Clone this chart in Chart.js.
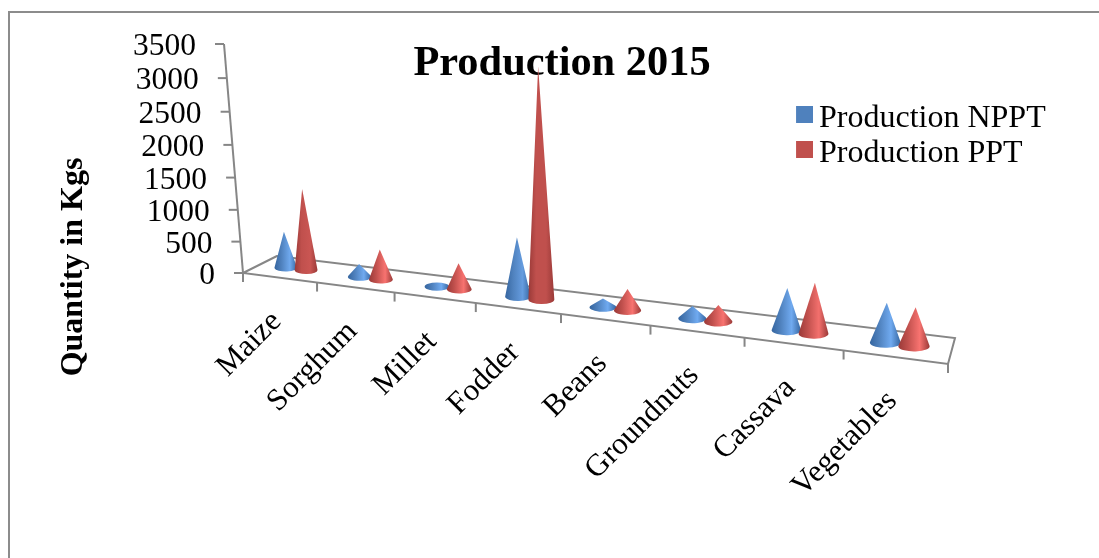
<!DOCTYPE html>
<html><head><meta charset="utf-8">
<style>html,body{margin:0;padding:0;background:#fff;overflow:hidden}canvas{display:block}</style>
<script src="https://cdn.jsdelivr.net/npm/chart.js@4"></script></head>
<body><canvas id="c" width="1099" height="558"></canvas>
<script>
const categories = ["Maize","Sorghum","Millet","Fodder","Beans","Groundnuts","Cassava","Vegetables"];
const productionNPPT = [500,180,20,830,125,175,590,555];
const productionPPT = [1130,420,365,3250,300,235,710,545];
const seriesNames = ["Production NPPT","Production PPT"];

const FONT = '"Liberation Serif","Times New Roman",serif';
const AXIS = '#868686';
const palette = [
  {base:'#4F81BD', dark:'#35659f', light:'#70aaf0'},
  {base:'#C0504D', dark:'#9a3a38', light:'#f87370'}
];
// view projection of the 3-D floor
const B = 1.217, C = 1.05;
const persp = u => u/(u+B*(1-u));
const vPersp = v => v/(v+C*(1-v));
const cornerFL=[243,273], cornerFR=[948,364], cornerBL=[277,256], cornerBR=[955,338];
const midL=[260,264.5], midR=[951.5,351];
const HEIGHT_GAIN = 1.1, LEAN = 0.000149, LEAN_X0 = 634;
const lerp=(a,b,t)=>a+(b-a)*t;
const frontPt = u => {const p=persp(u);return [lerp(cornerFL[0],cornerFR[0],p),lerp(cornerFL[1],cornerFR[1],p)];};
const midPt = u => {const p=persp(u);return [lerp(midL[0],midR[0],p),lerp(midL[1],midR[1],p)];};
const axisTop=[224,44];

function line(ctx,x1,y1,x2,y2){ctx.beginPath();ctx.moveTo(x1,y1);ctx.lineTo(x2,y2);ctx.stroke();}

function swatch(color){
  const s=document.createElement('canvas');s.width=20;s.height=26;
  const c=s.getContext('2d');c.fillStyle=color;c.fillRect(3,0,17,17);return s;
}
const swatches=palette.map(p=>swatch(p.base));

function drawCone(ctx,bx,by,rx,ry,h,pal){
  const lean=h*(bx-LEAN_X0)*LEAN;
  const tx=bx+lean, ty=by-h;
  const nx=lean/rx, ny=-h/ry, d=Math.hypot(nx,ny);
  const g=ctx.createLinearGradient(bx-rx,0,bx+rx,0);
  const dull=Math.min(1,Math.max(0,(h/rx-3)/5));
  const mix=(a,b,t)=>{const pa=[1,3,5].map(i=>parseInt(a.substr(i,2),16)),pb=[1,3,5].map(i=>parseInt(b.substr(i,2),16));
    return 'rgb('+pa.map((v,i)=>Math.round(lerp(v,pb[i],t))).join(',')+')';};
  const hi=mix(pal.light,pal.base,dull);
  g.addColorStop(0,pal.dark);g.addColorStop(0.3,pal.base);g.addColorStop(0.68,hi);g.addColorStop(1,pal.dark);
  ctx.save();ctx.fillStyle=g;ctx.beginPath();
  if(d<=1){ctx.ellipse(bx,by,rx,ry,0,0,Math.PI*2);}
  else{
    const a=Math.atan2(ny,nx), da=Math.acos(1/d);
    ctx.moveTo(tx,ty);
    ctx.ellipse(bx,by,rx,ry,0,a+da,a-da+Math.PI*2,false);
    ctx.closePath();
  }
  ctx.fill();ctx.restore();
}

const cones3d = {
  id:'cones3d',
  beforeDatasetDraw(){return false;},
  beforeDraw(chart){
    const {ctx,chartArea:a,scales:{x,y}}=chart;
    // frame
    ctx.save();ctx.strokeStyle='#8c8c8c';ctx.lineWidth=2;
    ctx.beginPath();ctx.moveTo(9,560);ctx.lineTo(9,12);ctx.lineTo(1101,12);ctx.stroke();ctx.restore();
    // move y tick labels along the leaning wall, with perspective spacing
    const yItems=y.getLabelItems();
    y.ticks.forEach((t,i)=>{
      const v=t.value/y.max;const py=lerp(cornerFL[1],axisTop[1],vPersp(v));
      const px=lerp(cornerFL[0],axisTop[0],vPersp(v));
      yItems[i].options.translation=[px-28,py+3];
    });
    // move category labels along the sloping front edge
    const xItems=x.getLabelItems();
    x.ticks.forEach((t,i)=>{
      const u=(x.getPixelForTick(i)-a.left)/a.width;const f=frontPt(u);
      xItems[i].options.translation=[f[0]-16,f[1]+26];
    });
    if(!y._titlePatched){
      const orig=y.drawTitle.bind(y);
      y.drawTitle=function(){const t=this.top,b=this.bottom;this.top=157;this.bottom=377;orig();this.top=t;this.bottom=b;};
      y._titlePatched=true;
    }
  },
  afterLayout(chart){
    const l=chart.legend;
    l.left=800;l.right=1090;l.top=100;l.bottom=540;
    l.draw=function(){this._draw();};
    const t=chart.titleBlock;t.left+=88;t.right+=88;t.top+=2;t.bottom+=2;
  },
  afterDatasetsDraw(chart){
    const {ctx,chartArea:a,scales:{x,y}}=chart;
    ctx.save();ctx.strokeStyle=AXIS;ctx.lineWidth=2;ctx.lineJoin='miter';
    // wall axis and its ticks
    line(ctx,cornerFL[0],cornerFL[1],axisTop[0],axisTop[1]);
    y.ticks.forEach(t=>{
      const v=vPersp(t.value/y.max);
      const px=lerp(cornerFL[0],axisTop[0],v),py=lerp(cornerFL[1],axisTop[1],v);
      line(ctx,px-9,py,px,py);
    });
    // floor
    ctx.beginPath();ctx.moveTo(...cornerBL);ctx.lineTo(...cornerFL);ctx.lineTo(...cornerFR);ctx.lineTo(...cornerBR);ctx.closePath();ctx.stroke();
    for(let i=0;i<=categories.length;i++){
      const f=frontPt(i/categories.length);line(ctx,f[0],f[1],f[0],f[1]+9);
    }
    ctx.restore();
    // cones, in reading order
    for(let j=0;j<categories.length;j++){
      chart.data.datasets.forEach((ds,di)=>{
        const el=chart.getDatasetMeta(di).data[j];
        const u=(el.x-a.left)/a.width;
        const uL=(el.x-el.width/2-a.left)/a.width,uR=(el.x+el.width/2-a.left)/a.width;
        const m=midPt(u);
        const rx=(midPt(uR)[0]-midPt(uL)[0])/2+1.2;
        const h=(y.getPixelForValue(0)-el.y)*HEIGHT_GAIN;
        drawCone(ctx,m[0],m[1],rx,rx*0.33,h,palette[di]);
      });
    }
  }
};

new Chart(document.getElementById('c'),{
  type:'bar',
  data:{labels:categories,datasets:[
    {label:seriesNames[0],data:productionNPPT,backgroundColor:palette[0].base,borderWidth:0},
    {label:seriesNames[1],data:productionPPT,backgroundColor:palette[1].base,borderWidth:0}
  ]},
  plugins:[cones3d],
  options:{
    responsive:false,animation:false,devicePixelRatio:1,
    layout:{padding:{left:0,top:0,right:151,bottom:0}},
    datasets:{bar:{categoryPercentage:0.56,barPercentage:1}},
    plugins:{
      tooltip:{enabled:false},
      title:{display:true,text:'Production 2015',color:'#000',
        font:{family:FONT,size:42.4,weight:'bold',lineHeight:1},padding:{top:41,bottom:-39}},
      legend:{display:true,position:'chartArea',align:'start',
        labels:{font:{family:FONT,size:32,lineHeight:1},color:'#000',usePointStyle:true,boxWidth:0.01,boxHeight:17,padding:3,
          generateLabels(chart){
            return Chart.defaults.plugins.legend.labels.generateLabels(chart).map((it,i)=>({...it,pointStyle:swatches[i]}));
          }}}
    },
    scales:{
      x:{type:'category',grid:{display:false},border:{display:false},
        afterFit(s){s.height=285;},
        ticks:{autoSkip:false,minRotation:45,maxRotation:45,font:{family:FONT,size:31},color:'#000',padding:0}},
      y:{type:'linear',min:0,max:3500,grid:{display:false},border:{display:false},
        afterFit(s){s.width=243;},
        ticks:{stepSize:500,autoSkip:false,callback:v=>String(v),font:{family:FONT,size:31.5},color:'#000',padding:0},
        title:{display:true,text:'Quantity in Kgs',color:'#000',
          font:{family:FONT,size:32,weight:'bold',lineHeight:1},padding:{top:58,bottom:0}}}
    }
  }
});
</script></body></html>
